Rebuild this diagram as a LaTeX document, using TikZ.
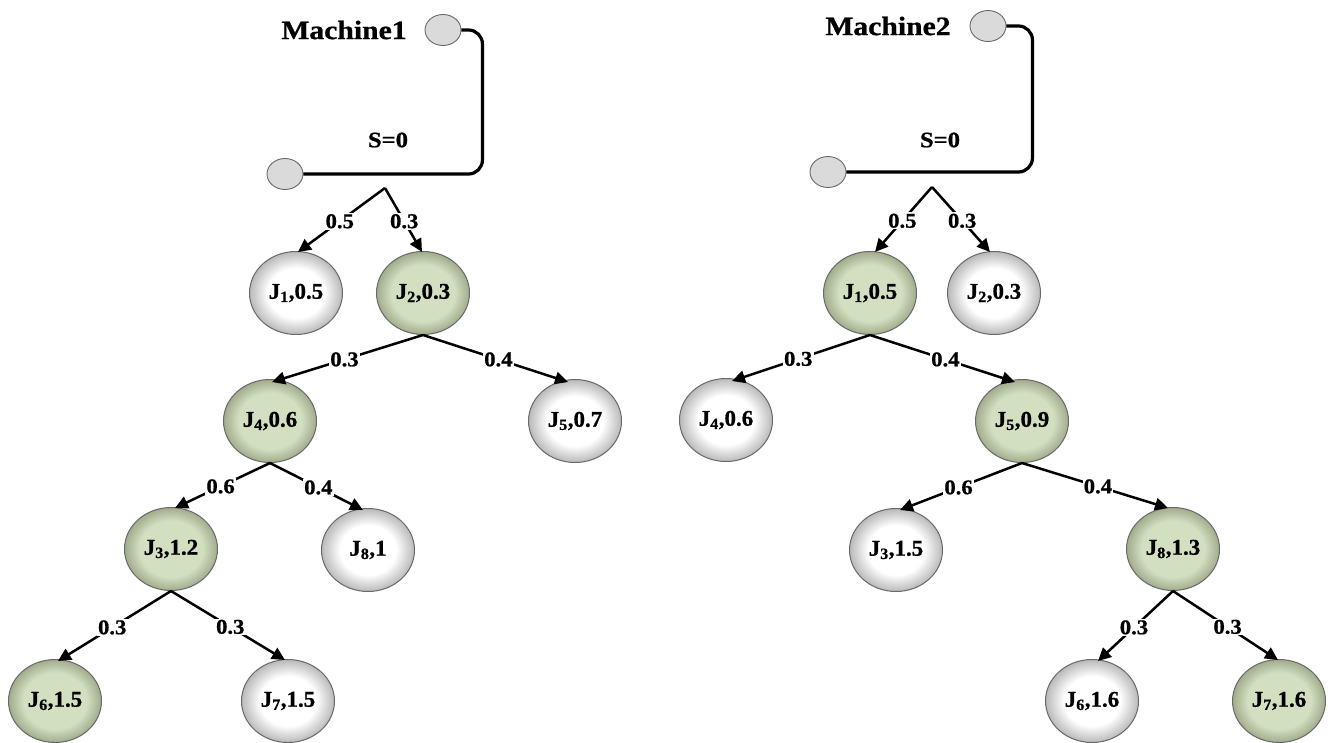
\documentclass[tikz,border=0pt]{standalone}
\usepackage{fontspec}
\setmainfont{Liberation Serif}[BoldFeatures={FakeBold=0.8}]
\usepackage{graphicx}
\usetikzlibrary{arrows.meta,calc,shapes.geometric}
\definecolor{gin}{RGB}{210,223,192}
\definecolor{gout}{RGB}{160,172,140}
\definecolor{wout}{RGB}{185,185,185}
\definecolor{rim}{RGB}{105,105,105}
\definecolor{portgray}{RGB}{218,218,218}
\pgfdeclareradialshading{wshade}{\pgfpoint{0bp}{0bp}}{color(0bp)=(white); color(15bp)=(white); color(25bp)=(wout); color(50bp)=(wout)}
\pgfdeclareradialshading{gshade}{\pgfpoint{0bp}{0bp}}{color(0bp)=(gin); color(17bp)=(gin); color(25bp)=(gout); color(50bp)=(gout)}
\newcommand{\jl}[2]{\scalebox{1.02}[1]{J\textsubscript{#1},#2}}
\newcommand{\el}[1]{\scalebox{1.08}[1]{#1}}
\newcommand{\ml}[1]{\scalebox{1.12}[1]{#1}}
\tikzset{
  job/.style={ellipse, draw=rim, line width=1pt, minimum width=93pt, minimum height=83pt, inner sep=0pt,
    font=\fontsize{22.5}{22.5}\selectfont\bfseries},
  wjob/.style={job, shade, shading=wshade},
  gjob/.style={job, shade, shading=gshade},
  port/.style={ellipse, draw=rim, fill=portgray, line width=0.9pt, minimum width=36pt, minimum height=31pt, inner sep=0pt},
  lbl/.style={pos=0.52, fill=white, inner sep=1.2pt, font=\fontsize{21}{21}\selectfont\bfseries},
  arr/.style={-{Triangle[length=13pt,width=12.5pt]}, line width=2.5pt},
  wire/.style={line width=3.2pt, rounded corners=14pt},
  title/.style={inner sep=0pt, font=\fontsize{26.5}{26.5}\selectfont\bfseries},
  sval/.style={inner sep=0pt, font=\fontsize{22}{22}\selectfont\bfseries},
}
\begin{document}
\begin{tikzpicture}[x=1pt,y=-1pt]
\useasboundingbox (0,0) rectangle (1333,742);

% ---------------- Machine 1 ----------------
\node[title] (m1) at (344,30) {\ml{Machine1}};
\node[port] (M1) at (443,30) {};
\node[port] (L0) at (285,174) {};
\node[sval] (s1) at (388,140) {\ml{S=0}};
\draw[wire] (M1.east) -- ++(21,0) |- (L0.east);
\coordinate (LA) at (385,188);

\node[wjob] (L1) at (296,293) {\jl{1}{0.5}};
\node[gjob] (L2) at (423,293) {\jl{2}{0.3}};
\node[gjob] (L4) at (270,421) {\jl{4}{0.6}};
\node[wjob] (L5) at (575,421) {\jl{5}{0.7}};
\node[gjob] (L3) at (171,549) {\jl{3}{1.2}};
\node[wjob] (L8) at (368,550) {\jl{8}{1}};
\node[gjob] (L6) at (55,701) {\jl{6}{1.5}};
\node[wjob] (L7) at (288,701) {\jl{7}{1.5}};

\draw[arr] (LA) -- node[lbl]{\el{0.5}} ($(L1.north)+(2,1)$);
\draw[arr] (LA) -- node[lbl]{\el{0.3}} ($(L2.north)+(-1,1)$);
\draw[arr] (L2.south) -- node[lbl]{\el{0.3}} ($(L4.north)+(2,3)$);
\draw[arr] (L2.south) -- node[lbl]{\el{0.4}} ($(L5.north)+(-7,3)$);
\draw[arr] (L4.south) -- node[lbl]{\el{0.6}} ($(L3.north)+(4,1)$);
\draw[arr] (L4.south) -- node[lbl]{\el{0.4}} ($(L8.north)+(-5,2)$);
\draw[arr] (L3.south) -- node[lbl]{\el{0.3}} ($(L6.north)+(3,2)$);
\draw[arr] (L3.south) -- node[lbl]{\el{0.3}} ($(L7.north)+(-3,1)$);

% ---------------- Machine 2 ----------------
\node[title] (m2) at (888,26) {\ml{Machine2}};
\node[port] (M2) at (988,26) {};
\node[port] (R0) at (828,172) {};
\node[sval] (s2) at (940,140) {\ml{S=0}};
\draw[wire] (M2.east) -- ++(26,0) |- (R0.east);
\coordinate (RA) at (932,187);

\node[gjob] (R1) at (870,293) {\jl{1}{0.5}};
\node[wjob] (R2) at (994,293) {\jl{2}{0.3}};
\node[wjob] (R4) at (726,420) {\jl{4}{0.6}};
\node[gjob] (R5) at (1022,421) {\jl{5}{0.9}};
\node[wjob] (R3) at (896,550) {\jl{3}{1.5}};
\node[gjob] (R8) at (1173,549) {\jl{8}{1.3}};
\node[wjob] (R6) at (1092,701) {\jl{6}{1.6}};
\node[gjob] (R7) at (1279,701) {\jl{7}{1.6}};

\draw[arr] (RA) -- node[lbl]{\el{0.5}} ($(R1.north)+(5,1)$);
\draw[arr] (RA) -- node[lbl]{\el{0.3}} ($(R2.north)+(-4,1)$);
\draw[arr] (R1.south) -- node[lbl]{\el{0.3}} ($(R4.north)+(6,3)$);
\draw[arr] (R1.south) -- node[lbl]{\el{0.4}} ($(R5.north)+(-7,3)$);
\draw[arr] (R5.south) -- node[lbl]{\el{0.6}} ($(R3.north)+(4,2)$);
\draw[arr] (R5.south) -- node[lbl]{\el{0.4}} ($(R8.north)+(-5,1)$);
\draw[arr] (R8.south) -- node[lbl]{\el{0.3}} ($(R6.north)+(6,2)$);
\draw[arr] (R8.south) -- node[lbl]{\el{0.3}} ($(R7.north)+(-1,1)$);
\end{tikzpicture}
\end{document}
